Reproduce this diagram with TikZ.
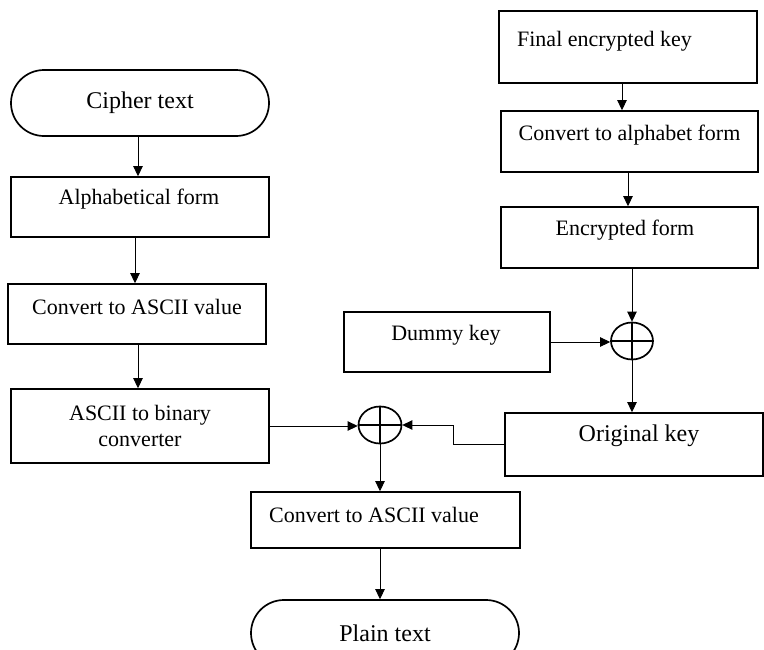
\documentclass[tikz,border=0pt]{standalone}
\usepackage{fontspec}
\setmainfont{Liberation Serif}
\usetikzlibrary{arrows.meta,shapes.geometric,calc}
\begin{document}
\begin{tikzpicture}[x=1pt,y=-1pt,
  boxnode/.style={draw,line width=1.7pt,inner sep=0pt,font=\fontsize{22}{26}\selectfont,align=center},
  termnode/.style={boxnode,rounded corners=33pt,font=\fontsize{24}{28}\selectfont},
  lbl/.style={font=\fontsize{22}{26}\selectfont,inner sep=0pt},
  biglbl/.style={font=\fontsize{24}{28}\selectfont,inner sep=0pt},
  xornode/.style={draw,ellipse,line width=1.7pt,minimum width=43pt,minimum height=37pt,inner sep=0pt},
  conn/.style={line width=0.9pt,-{Triangle[length=10pt,width=9.5pt]}},
  plainline/.style={line width=0.9pt}]
\useasboundingbox (0,0) rectangle (764,649);
% left column
\node[termnode,minimum width=258pt,minimum height=66pt] (cipher) at (140,103) {Cipher text};
\node[boxnode,minimum width=258pt,minimum height=60pt,
  label={[lbl,name=alphat,xshift=-1pt,yshift=8pt]center:Alphabetical form}] (alpha) at (140,207) {};
\node[boxnode,minimum width=258pt,minimum height=60pt,
  label={[lbl,name=conv1t,yshift=7pt]center:Convert to ASCII value}] (conv1) at (137,314) {};
\node[boxnode,minimum width=258pt,minimum height=74pt] (bin) at (140,426) {ASCII to binary\\converter};
\node[xornode] (x1) at (380,425) {};
\node[boxnode,minimum width=269pt,minimum height=56pt,
  label={[lbl,name=conv2t,xshift=-11.5pt,yshift=5pt]center:Convert to ASCII value}] (conv2) at (385.5,520) {};
\node[termnode,minimum width=268pt,minimum height=66pt] (plain) at (385,633) {Plain text};
% right column
\node[boxnode,minimum width=258pt,minimum height=72pt,
  label={[lbl,name=fint,xshift=-23.5pt,yshift=6pt]center:Final encrypted key}] (fin) at (628,47) {};
\node[boxnode,minimum width=257pt,minimum height=61pt,
  label={[lbl,name=calphat,yshift=6.5pt]center:Convert to alphabet form}] (calpha) at (629.5,141.5) {};
\node[boxnode,minimum width=257pt,minimum height=61pt,
  label={[lbl,name=enct,xshift=-4.5pt,yshift=7.5pt]center:Encrypted form}] (enc) at (629.5,237.5) {};
\node[xornode,minimum width=42pt] (x2) at (632,341) {};
\node[boxnode,minimum width=206pt,minimum height=60pt,
  label={[lbl,name=dummyt,xshift=-1pt,yshift=7pt]center:Dummy key}] (dummy) at (447,342) {};
\node[boxnode,minimum width=258pt,minimum height=63pt,
  label={[biglbl,name=okt,xshift=5pt,yshift=8.5pt]center:Original key}] (ok) at (634,444.5) {};
% xor crosses
\draw[line width=1.7pt] (x1.north) -- (x1.south) (x1.west) -- (x1.east);
\draw[line width=1.7pt] (x2.north) -- (x2.south) (x2.west) -- (x2.east);
% connectors left
\draw[conn] ($(cipher.south)+(-2,0)$) -- ($(cipher.south |- alpha.north)+(-2,0)$);
\draw[conn] ($(alpha.south)+(-5,0)$) -- ($(alpha.south |- conv1.north)+(-5,0)$);
\draw[conn] ($(conv1.south)+(1,0)$) -- ($(conv1.south |- bin.north)+(1,0)$);
\draw[conn] (bin.east) -- (bin.east -| x1.west);
\draw[conn] (ok.west) -- ++(-51,0) |- (x1.east);
\draw[conn] (x1.south) -- (x1.south |- conv2.north);
\draw[conn] (x1.south |- conv2.south) -- (x1.south |- plain.north);
% connectors right
\draw[conn] ($(fin.south)+(-6,0)$) -- ($(fin.south |- calpha.north)+(-6,0)$);
\draw[conn] ($(calpha.south)+(-1.5,0)$) -- ($(calpha.south |- enc.north)+(-1.5,0)$);
\draw[conn] (x2.north |- enc.south) -- (x2.north);
\draw[conn] (dummy.east) -- (dummy.east -| x2.west);
\draw[conn] (x2.south) -- (x2.south |- ok.north);
\end{tikzpicture}
\end{document}
